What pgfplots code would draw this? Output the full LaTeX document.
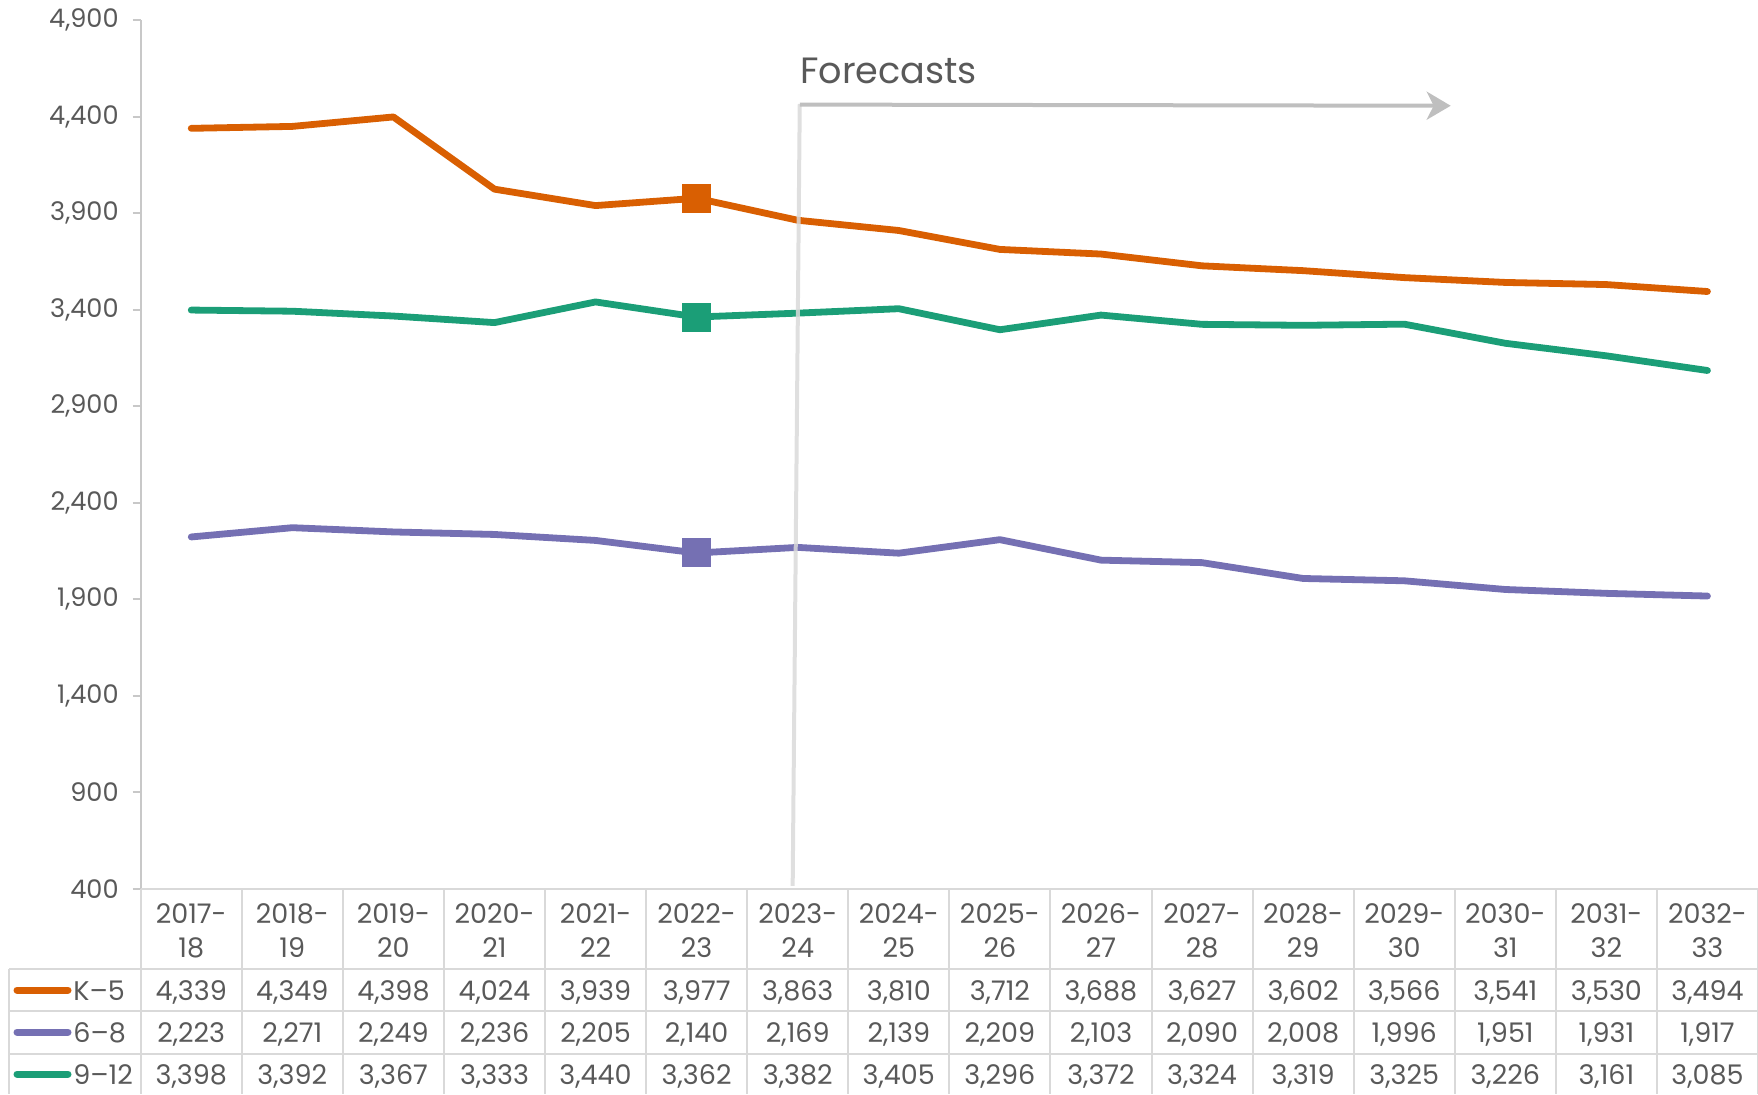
\documentclass[border=0pt]{standalone}
\usepackage{pgfplots}
\pgfplotsset{compat=1.18}
\usepackage{pgfplotstable}
\usetikzlibrary{arrows.meta}
\usepackage{fontspec}
\setmainfont{Poppins}
\definecolor{kfive}{HTML}{D95F02}
\definecolor{sixeight}{HTML}{7570B3}
\definecolor{nine}{HTML}{1B9E77}
\definecolor{txt}{HTML}{595959}
\definecolor{gridc}{HTML}{D9D9D9}
\definecolor{axisc}{HTML}{C8C8C8}
\definecolor{arrowc}{HTML}{BFBFBF}
\pgfkeys{/pgf/number format/.cd, 1000 sep={,}, assume math mode=true}

\pgfplotstableread{
x lo hi K5 G68 G912
0 2017 18 4339 2223 3398
1 2018 19 4349 2271 3392
2 2019 20 4398 2249 3367
3 2020 21 4024 2236 3333
4 2021 22 3939 2205 3440
5 2022 23 3977 2140 3362
6 2023 24 3863 2169 3382
7 2024 25 3810 2139 3405
8 2025 26 3712 2209 3296
9 2026 27 3688 2103 3372
10 2027 28 3627 2090 3324
11 2028 29 3602 2008 3319
12 2029 30 3566 1996 3325
13 2030 31 3541 1951 3226
14 2031 32 3530 1931 3161
15 2032 33 3494 1917 3085
}\data

\begin{document}
\begin{tikzpicture}[font=\fontsize{13.5}{16}\selectfont, text=txt]
\useasboundingbox (0,0) rectangle (879pt,547pt);
\begin{axis}[
  at={(70.35pt,102.5pt)}, anchor=south west, scale only axis,
  width=808.65pt, height=434.5pt,
  xmin=-0.5, xmax=15.5, ymin=400, ymax=4900,
  ytick={400,900,...,4900},
  axis x line=none, axis y line*=left,
  axis line style={-, draw=axisc, line width=1pt},
  ytick style={draw=axisc, line width=1pt},
  tick align=outside, major tick length=4pt,
  yticklabel style={font=\fontsize{12.8}{16}\selectfont, text=txt, xshift=-3.5pt},
  /pgf/number format/.cd, 1000 sep={,}, assume math mode=true,
  /pgfplots/.cd,
  clip=false,
]
\addplot[kfive, line width=3.4pt, line join=round, line cap=round] table[x=x,y=K5]{\data};
\addplot[sixeight, line width=3.4pt, line join=round, line cap=round] table[x=x,y=G68]{\data};
\addplot[nine, line width=3.4pt, line join=round, line cap=round] table[x=x,y=G912]{\data};
\addplot[only marks, mark=square*, mark size=7pt, mark options={fill=kfive, draw=kfive, line width=0pt}] table[x=x,y=K5, restrict x to domain=5:5]{\data};
\addplot[only marks, mark=square*, mark size=7pt, mark options={fill=sixeight, draw=sixeight, line width=0pt}] table[x=x,y=G68, restrict x to domain=5:5]{\data};
\addplot[only marks, mark=square*, mark size=7pt, mark options={fill=nine, draw=nine, line width=0pt}] table[x=x,y=G912, restrict x to domain=5:5]{\data};
\draw[gridc, line width=2pt, opacity=0.85] (axis cs:6.02,4465) -- (axis cs:5.95,416);
\draw[arrowc, line width=2pt, -{Stealth[length=12pt, width=14pt, inset=3.5pt]}] (axis cs:6.02,4462) -- (axis cs:12.46,4456);
\node[anchor=base west, font=\fontsize{18.3}{22}\selectfont, text=txt, inner sep=0pt] at (axis cs:6.02,4569) {Forecasts};
\end{axis}
% data table
\draw[gridc, line width=1pt] (70.35pt,102.5pt) -- (879pt,102.5pt);
\foreach \y in {62.5,41.5,20} \draw[gridc, line width=1pt] (4.5pt,\y pt) -- (879pt,\y pt);
\draw[gridc, line width=1pt] (4.5pt,62.5pt) -- (4.5pt,0pt);
\foreach \k in {0,...,16} \draw[gridc, line width=1pt] ({70.35pt+\k*50.540625pt},102.5pt) -- ({70.35pt+\k*50.540625pt},0pt);
\foreach \i in {0,...,15} {
  \pgfplotstablegetelem{\i}{lo}\of\data \edef\lo{\pgfplotsretval}
  \pgfplotstablegetelem{\i}{hi}\of\data \edef\hi{\pgfplotsretval}
  \pgfplotstablegetelem{\i}{K5}\of\data \edef\va{\pgfplotsretval}
  \pgfplotstablegetelem{\i}{G68}\of\data \edef\vb{\pgfplotsretval}
  \pgfplotstablegetelem{\i}{G912}\of\data \edef\vc{\pgfplotsretval}
  \pgfmathsetmacro{\cx}{70.35+(\i+0.5)*50.540625}
  \node[text height=10pt, text depth=0pt] at (\cx pt,90pt) {\lo-};
  \node[text height=10pt, text depth=0pt] at (\cx pt,73.5pt) {\hi};
  \node[text height=10pt, text depth=0pt] at (\cx pt,52pt) {\pgfmathprintnumber{\va}};
  \node[text height=10pt, text depth=0pt] at (\cx pt,31pt) {\pgfmathprintnumber{\vb}};
  \node[text height=10pt, text depth=0pt] at (\cx pt,10pt) {\pgfmathprintnumber{\vc}};
}
% legend keys
\draw[kfive, line width=3.5pt, line cap=round] (8.5pt,52pt) -- (34pt,52pt);
\draw[sixeight, line width=3.5pt, line cap=round] (8.5pt,31pt) -- (34pt,31pt);
\draw[nine, line width=3.5pt, line cap=round] (8.5pt,10pt) -- (34pt,10pt);
\node[anchor=west, inner sep=0pt, text height=10pt, text depth=0pt] at (36.5pt,52pt) {K–5};
\node[anchor=west, inner sep=0pt, text height=10pt, text depth=0pt] at (36.5pt,31pt) {6–8};
\node[anchor=west, inner sep=0pt, text height=10pt, text depth=0pt] at (36.5pt,10pt) {9–12};
\end{tikzpicture}
\end{document}
